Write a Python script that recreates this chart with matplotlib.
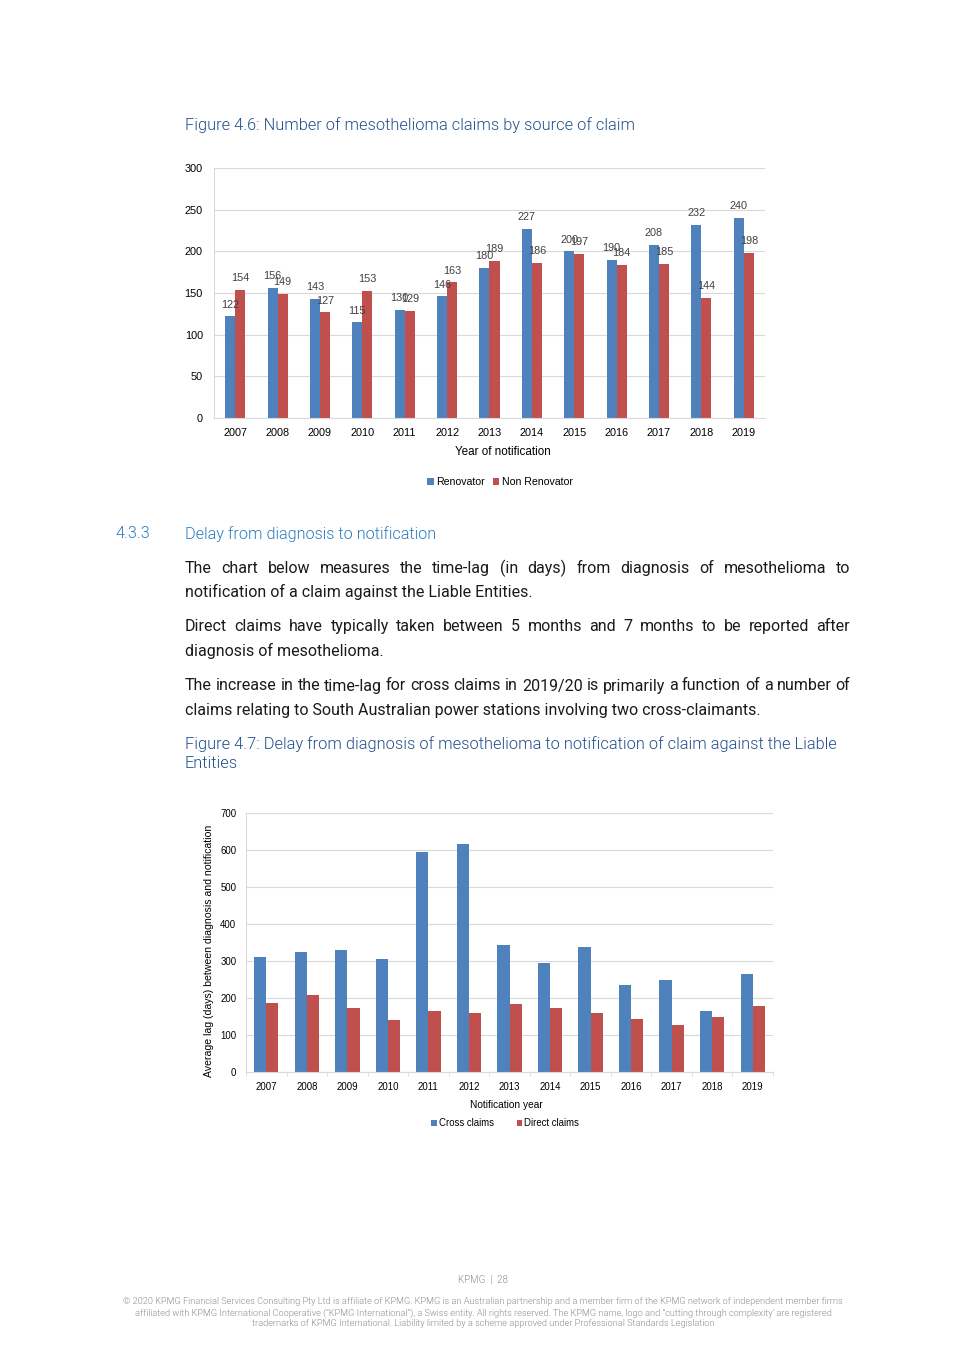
import matplotlib
matplotlib.use("Agg")
import matplotlib.pyplot as plt
import numpy as np

# data
years = ["2007", "2008", "2009", "2010", "2011", "2012", "2013",
         "2014", "2015", "2016", "2017", "2018", "2019"]
renovator = [122, 156, 143, 115, 130, 146, 180, 227, 200, 190, 208, 232, 240]
non_renovator = [154, 149, 127, 153, 129, 163, 189, 186, 197, 184, 185, 144, 198]
cross_claims = [311, 325, 329, 305, 594, 615, 343, 294, 337, 234, 250, 166, 264]
direct_claims = [186, 208, 172, 141, 165, 159, 183, 172, 159, 144, 128, 149, 179]

BLUE = "#4F81BD"
RED = "#C0504D"
GRID = "#D9D9D9"
TXT = "#404040"
HEAD = "#1F4E8C"
SECT = "#2A7CC0"
CHART_FONT = ["Liberation Sans", "DejaVu Sans"]
DOC_FONT = ["Roboto", "DejaVu Sans"]

W, H = 965, 1365
fig = plt.figure(figsize=(W / 100, H / 100), dpi=100)
renderer = fig.canvas.get_renderer()


def fx(x):
    return x / W


def fy(y):
    return 1 - y / H


def page_text(x, y, s, **kw):
    kw.setdefault("family", DOC_FONT)
    kw.setdefault("va", "center")
    kw.setdefault("fontweight", 300)
    return fig.text(fx(x), fy(y), s, **kw)


def justified(x0, x1, y, s, **kw):
    # spread the words of a full line between x0 and x1
    words = s.split()
    objs = [page_text(0, y, w, **kw) for w in words]
    widths = [o.get_window_extent(renderer).width for o in objs]
    gap = (x1 - x0 - sum(widths)) / (len(words) - 1)
    x = x0
    for o, w in zip(objs, widths):
        o.set_x(fx(x))
        x += w + gap


def style_axes(ax, ymax, step):
    ax.set_ylim(0, ymax)
    ax.set_xlim(-0.5, len(years) - 0.5)
    ax.set_yticks(np.arange(0, ymax + 1, step))
    ax.yaxis.grid(True, color=GRID, lw=0.8)
    ax.set_axisbelow(True)
    for side in ["top", "right"]:
        ax.spines[side].set_visible(False)
    for side in ["left", "bottom"]:
        ax.spines[side].set_color(GRID)
        ax.spines[side].set_linewidth(0.8)
    ax.set_xticks(np.arange(len(years)))
    ax.set_xticklabels(years)


# ---- Figure 4.6 ----
page_text(185, 125, "Figure 4.6: Number of mesothelioma claims by source of claim",
          color=HEAD, fontsize=11.8)

ax1 = fig.add_axes([fx(214), fy(418), 551 / W, 250 / H])
x = np.arange(len(years))
bw = 0.236
b1 = ax1.bar(x - bw / 2, renovator, bw, color=BLUE, label="Renovator")
b2 = ax1.bar(x + bw / 2, non_renovator, bw, color=RED, label="Non Renovator")
style_axes(ax1, 300, 50)
ax1.tick_params(axis="both", length=0, labelsize=7.8, colors="black", pad=7)
ax1.tick_params(axis="y", pad=8)
for lab in ax1.get_xticklabels() + ax1.get_yticklabels():
    lab.set_family(CHART_FONT)
for bars, vals in [(b1, renovator), (b2, non_renovator)]:
    for r, v in zip(bars, vals):
        ax1.annotate(str(v), (r.get_x() + r.get_width() / 2, v), xytext=(0, 8.3),
                     textcoords="offset points", ha="center", va="center",
                     fontsize=7.8, color=TXT, family=CHART_FONT)
ax1.set_xlabel("Year of notification", fontsize=8.4, family=CHART_FONT)
ax1.xaxis.set_label_coords((503 - 214) / 551, -(452 - 418) / 250)
ax1.xaxis.label.set_va("center")
ax1.legend(loc="center", bbox_to_anchor=(fx(500), fy(482)), bbox_transform=fig.transFigure,
           ncol=2, frameon=False, handlelength=0.6, handleheight=0.6, handletextpad=0.2,
           columnspacing=0.8, prop={"family": CHART_FONT, "size": 7.6})

# ---- section text ----
page_text(115, 534, "4.3.3", color=SECT, fontsize=11.7)
page_text(185, 534, "Delay from diagnosis to notification", color=SECT, fontsize=11.7)

body = dict(color="#1a1a1a", fontsize=11.5, fontweight=400)
justified(185, 850, 568, "The chart below measures the time-lag (in days) from diagnosis of mesothelioma to", **body)
page_text(185, 592, "notification of a claim against the Liable Entities.", **body)
justified(185, 850, 627, "Direct claims have typically taken between 5 months and 7 months to be reported after", **body)
page_text(185, 651, "diagnosis of mesothelioma.", **body)
justified(185, 850, 686, "The increase in the time-lag for cross claims in 2019/20 is primarily a function of a number of", **body)
page_text(185, 710, "claims relating to South Australian power stations involving two cross-claimants.", **body)

page_text(185, 744, "Figure 4.7: Delay from diagnosis of mesothelioma to notification of claim against the Liable",
          color=HEAD, fontsize=11.8)
page_text(185, 763, "Entities", color=HEAD, fontsize=11.8)

# ---- Figure 4.7 ----
ax2 = fig.add_axes([fx(246), fy(1072), 527 / W, 259 / H])
bw2 = 0.3
ax2.bar(x - bw2 / 2, cross_claims, bw2, color=BLUE, label="Cross claims")
ax2.bar(x + bw2 / 2, direct_claims, bw2, color=RED, label="Direct claims")
style_axes(ax2, 700, 100)
ax2.tick_params(axis="both", length=0, labelsize=6.9, colors="black", pad=7)
ax2.set_xticks(np.arange(len(years) + 1) - 0.5, minor=True)
ax2.tick_params(axis="x", which="minor", length=3, color=GRID)
for lab in ax2.get_xticklabels() + ax2.get_yticklabels():
    lab.set_family(CHART_FONT)
ax2.set_xlabel("Notification year", fontsize=7.3, family=CHART_FONT)
ax2.xaxis.set_label_coords((506 - 246) / 527, -(1105 - 1072) / 259)
ax2.xaxis.label.set_va("center")
ax2.set_ylabel("Average lag (days) between diagnosis and notification", fontsize=7.6,
               family=CHART_FONT)
ax2.yaxis.set_label_coords(-(246 - 209) / 527, (1072 - 951) / 259)
ax2.yaxis.label.set_va("center")
ax2.legend(loc="center", bbox_to_anchor=(fx(505), fy(1123)), bbox_transform=fig.transFigure,
           ncol=2, frameon=False, handlelength=0.6, handleheight=0.6, handletextpad=0.2,
           columnspacing=2.4, prop={"family": CHART_FONT, "size": 6.9})

# ---- footer ----
foot = dict(color="#8c8c8c", ha="center")
page_text(483, 1279, "KPMG  |  28", fontsize=7, **foot)
page_text(483, 1302, "\u00a9 2020 KPMG Financial Services Consulting Pty Ltd is affiliate of KPMG. KPMG is an Australian "
          "partnership and a member firm of the KPMG network of independent member firms", fontsize=6.55, **foot)
page_text(483, 1313, "affiliated with KPMG International Cooperative (\u201cKPMG International\u201d), a Swiss entity. "
          "All rights reserved. The KPMG name, logo and \u201ccutting through complexity\u2019 are registered",
          fontsize=6.55, **foot)
page_text(483, 1324, "trademarks of KPMG International. Liability limited by a scheme approved under Professional "
          "Standards Legislation", fontsize=6.55, **foot)

fig.savefig("out.png", dpi=100)
